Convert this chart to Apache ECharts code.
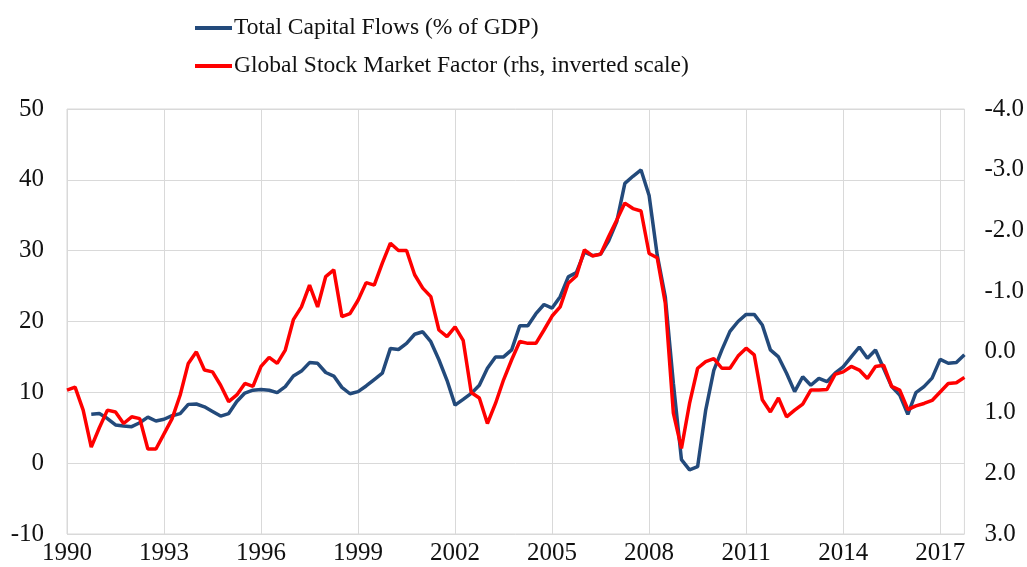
<!DOCTYPE html>
<html lang="en">

<head>
    <meta charset="UTF-8" />
    <title>Capital flows and global stock market factor</title>
    <script src="https://cdn.jsdelivr.net/npm/echarts@6/dist/echarts.min.js"></script>
    <style>
        html, body { margin: 0; padding: 0; background: #fff; }
        #chart { width: 1027px; height: 567px; }
    </style>
</head>

<body>
    <div id="chart"></div>
    <script>
        // quarterly x axis, 1990Q1 .. 2017Q4
        var years = [];
        for (var y = 1990; y <= 2017; y++) years.push(y);
        var quarters = [];
        years.forEach(function (y) {
            for (var q = 1; q <= 4; q++) quarters.push(y + "Q" + q);
        });

        // total capital flows, % of GDP (lhs), starts 1990Q4
        var flowStart = "1990Q4";
        var flowValues = [
            6.9,
            7.0, 6.3, 5.4, 5.25,
            5.15, 5.7, 6.5, 5.95,
            6.2, 6.7, 7.0, 8.3,
            8.35, 7.95, 7.3, 6.65,
            7.0, 8.7, 9.9, 10.3,
            10.4, 10.3, 9.95, 10.8,
            12.3, 13.0, 14.2, 14.1,
            12.8, 12.3, 10.7, 9.8,
            10.1, 10.9, 11.8, 12.7,
            16.2, 16.05, 16.9, 18.2,
            18.55, 17.15, 14.6, 11.7,
            8.2, 9.0, 9.85, 11.0,
            13.4, 15.0, 15.0, 16.0,
            19.4, 19.4, 21.1, 22.4,
            21.9, 23.5, 26.3, 26.9,
            29.8, 29.3, 29.5, 31.4,
            34.1, 39.5, 40.5, 41.4,
            37.8, 29.4, 23.5, 11.3,
            0.5, -0.95, -0.5, 7.5,
            13.1, 16.0, 18.6, 20.0,
            21.0, 21.0, 19.5, 16.0,
            15.0, 12.7, 10.1, 12.2,
            11.0, 11.97, 11.5, 12.7,
            13.6, 15.0, 16.4, 14.8,
            15.97, 13.4, 10.8, 9.6,
            6.9, 9.95, 10.8, 12.0,
            14.65, 14.1, 14.2, 15.3
        ];

        // global stock market factor (rhs, inverted), starts 1990Q1
        var stockStart = "1990Q1";
        var stockValues = [
            0.63, 0.58, 0.96, 1.57,
            1.25, 0.96, 0.99, 1.18,
            1.07, 1.10, 1.60, 1.60,
            1.35, 1.10, 0.71, 0.19,
            0.00, 0.30, 0.33, 0.55,
            0.82, 0.71, 0.52, 0.57,
            0.24, 0.09, 0.19, -0.03,
            -0.53, -0.74, -1.10, -0.74,
            -1.24, -1.35, -0.58, -0.63,
            -0.85, -1.14, -1.10, -1.46,
            -1.79, -1.67, -1.67, -1.27,
            -1.05, -0.91, -0.36, -0.25,
            -0.41, -0.19, 0.67, 0.76,
            1.18, 0.85, 0.46, 0.13,
            -0.17, -0.14, -0.14, -0.36,
            -0.59, -0.74, -1.13, -1.25,
            -1.68, -1.58, -1.61, -1.90,
            -2.17, -2.45, -2.36, -2.32,
            -1.62, -1.55, -0.80, 1.01,
            1.59, 0.85, 0.27, 0.16,
            0.11, 0.27, 0.27, 0.07,
            -0.06, 0.05, 0.79, 0.99,
            0.76, 1.07, 0.96, 0.86,
            0.63, 0.63, 0.62, 0.37,
            0.33, 0.24, 0.30, 0.44,
            0.24, 0.22, 0.57, 0.63,
            0.95, 0.89, 0.85, 0.80,
            0.66, 0.52, 0.51, 0.42
        ];

        var leftTicks = { min: -10, max: 50, step: 10 };
        var rightTicks = { min: -4, max: 3, step: 1 };

        function pairs(start, values) {
            var i0 = quarters.indexOf(start);
            return values.map(function (v, i) { return [quarters[i0 + i], v]; });
        }

        var serif = "'Liberation Serif', 'DejaVu Serif', serif";
        var gridColor = "#d9d9d9";
        var labelSize = 25;

        var myChart = echarts.init(document.getElementById("chart"));
        var option = {
            animation: false,
            textStyle: { fontFamily: serif },
            legend: {
                orient: "vertical",
                left: 190,
                top: 11,
                itemWidth: 37,
                itemHeight: 4,
                itemGap: 14,
                icon: "rect",
                textStyle: { fontFamily: serif, fontSize: 23.5, color: "#111", padding: [0, 0, 0, -3] },
                data: ["Total Capital Flows (% of GDP)", "Global Stock Market Factor (rhs, inverted scale)"]
            },
            grid: {
                left: 67, right: 61, top: 109, bottom: 33,
                show: true, borderColor: gridColor, borderWidth: 1
            },
            xAxis: {
                type: "category",
                data: quarters,
                boundaryGap: false,
                axisLine: { show: false },
                axisTick: { show: false },
                axisLabel: {
                    interval: 11,
                    margin: 7,
                    fontFamily: serif, fontSize: labelSize, color: "#111",
                    formatter: function (v) { return v.slice(0, 4); }
                },
                splitLine: { show: true, interval: 11, lineStyle: { color: gridColor, width: 1 } }
            },
            yAxis: [
                {
                    type: "value",
                    min: leftTicks.min, max: leftTicks.max, interval: leftTicks.step,
                    axisLine: { show: false },
                    axisTick: { show: false },
                    axisLabel: { margin: 23, fontFamily: serif, fontSize: labelSize, color: "#111" },
                    splitLine: { show: true, lineStyle: { color: gridColor, width: 1 } }
                },
                {
                    type: "value",
                    inverse: true,
                    min: rightTicks.min, max: rightTicks.max, interval: rightTicks.step,
                    axisLine: { show: false },
                    axisTick: { show: false },
                    splitLine: { show: false },
                    axisLabel: {
                        margin: 20, fontFamily: serif, fontSize: labelSize, color: "#111",
                        formatter: function (v) { return v.toFixed(1); }
                    }
                }
            ],
            series: [
                {
                    name: "Total Capital Flows (% of GDP)",
                    type: "line",
                    yAxisIndex: 0,
                    symbol: "none",
                    data: pairs(flowStart, flowValues),
                    itemStyle: { color: "#234a7b" },
                    lineStyle: { color: "#234a7b", width: 3.5 }
                },
                {
                    name: "Global Stock Market Factor (rhs, inverted scale)",
                    type: "line",
                    yAxisIndex: 1,
                    symbol: "none",
                    data: pairs(stockStart, stockValues),
                    itemStyle: { color: "#ff0000" },
                    lineStyle: { color: "#ff0000", width: 3.5 }
                }
            ]
        };
        myChart.setOption(option);
    </script>
</body>

</html>
